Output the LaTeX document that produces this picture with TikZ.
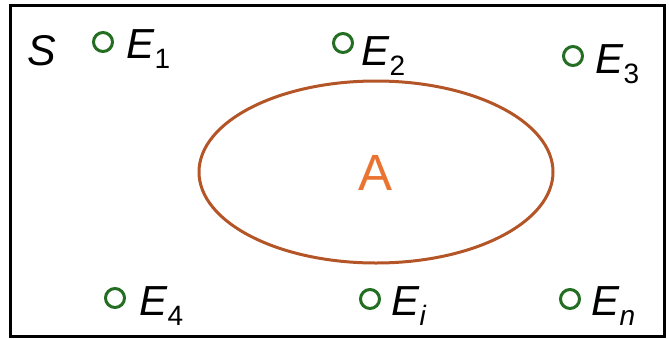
\documentclass[tikz,border=0pt]{standalone}
\usepackage{fontspec}
\setmainfont{Liberation Sans}
\definecolor{ptgreen}{RGB}{35,110,35}
\definecolor{evbrown}{RGB}{180,85,40}
\definecolor{evorange}{RGB}{235,115,50}
\tikzset{
  spacebox/.style={draw=black,line width=3pt},
  eventset/.style={draw=evbrown,line width=3pt},
  outcome/.style={circle,draw=ptgreen,line width=3pt,minimum size=19pt,inner sep=0pt},
  outlabel/.style={anchor=base west,inner sep=0pt,font=\fontsize{42}{44}\selectfont}
}
\newcommand{\outname}[1]{\textit{E}\raisebox{-10pt}{\fontsize{28}{30}\selectfont #1}}

\begin{document}
\begin{tikzpicture}[x=1pt,y=-1pt]
  \useasboundingbox (0,0) rectangle (669,338);
  \draw[spacebox] (10,5) rectangle (664,336);
  \draw[eventset] (376,172) ellipse (177pt and 91pt);
  \node[anchor=base west,inner sep=0pt,font=\fontsize{43}{45}\selectfont\itshape] (s) at (27,65) {S};
  \node[anchor=base,inner sep=0pt,text=evorange,font=\fontsize{51}{53}\selectfont] (a) at (376,190) {A};
  % outcomes in the top row
  \node[outcome] (e1) at (103,42) {};
  \node[outlabel] (l1) at (126,58) {\outname{1}};
  \node[outcome] (e2) at (343,43) {};
  \node[outlabel] (l2) at (361,65) {\outname{2}};
  \node[outcome] (e3) at (573,56) {};
  \node[outlabel] (l3) at (595,73) {\outname{3}};
  % outcomes in the bottom row
  \node[outcome] (e4) at (115,298) {};
  \node[outlabel] (l4) at (139,315) {\outname{4}};
  \node[outcome] (ei) at (370,299) {};
  \node[outlabel] (li) at (391,315) {\outname{\textit{i}}};
  \node[outcome] (en) at (570,299) {};
  \node[outlabel] (ln) at (591,315) {\outname{\textit{n}}};
\end{tikzpicture}
\end{document}
